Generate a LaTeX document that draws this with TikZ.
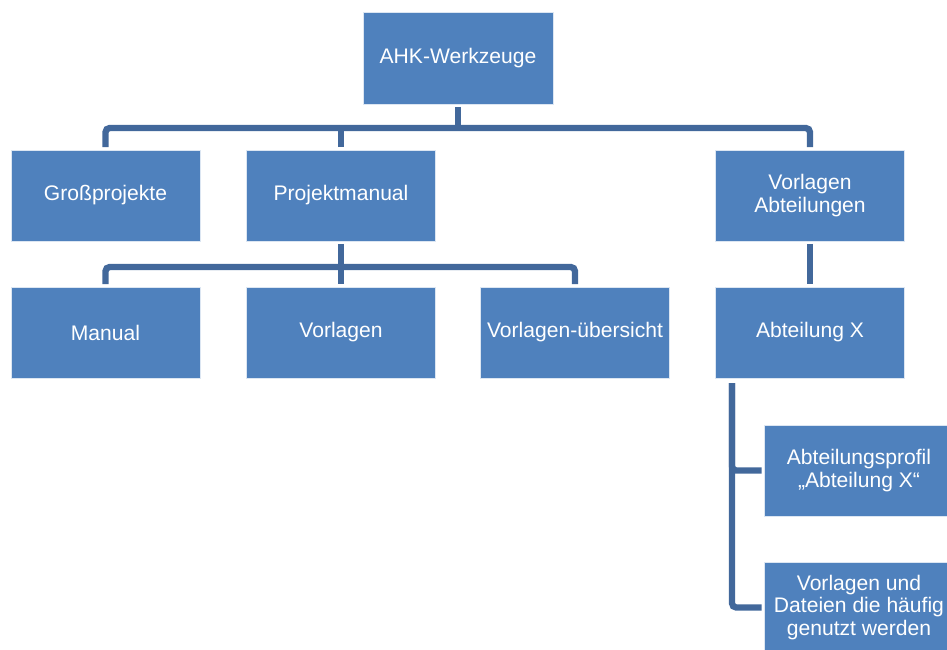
\documentclass[tikz,border=0pt]{standalone}
\usepackage{fontspec}
\setmainfont{Liberation Sans}
\definecolor{boxblue}{RGB}{79,129,189}
\definecolor{linkblue}{RGB}{66,104,155}
\tikzset{
  orgbox/.style={draw=white!80!boxblue, line width=0.6pt, fill=boxblue, text=white,
    minimum width=4.725cm, minimum height=2.275cm, align=center, inner sep=1pt,
    outer sep=2pt, font=\fontsize{15}{16}\selectfont},
  link/.style={draw=linkblue, line width=4.5pt, rounded corners=3pt}
}
\begin{document}
\begin{tikzpicture}[x=0.025cm, y=-0.025cm]
                \useasboundingbox (0,0) rectangle (947,650);
                \clip (0,0) rectangle (947,650);
                
                % Top level
                \node [orgbox, minimum width=4.75cm, minimum height=2.3cm] (ahk) at (458,58) {AHK-Werkzeuge};
                
                % Second level
                \node [orgbox] (gross) at (105.5,195.5) {Großprojekte};
                \node [orgbox] (projekt) at (341,195.5) {Projektmanual};
                \node [orgbox] (vabt) at (810,195.5) {Vorlagen\\Abteilungen};
                
                % Third level
                \node [orgbox] (manual) at (105.5,332.5) {Manual};
                \node [orgbox] (vorl) at (341,332.5) {Vorlagen};
                \node [orgbox] (vuebers) at (575,332.5) {Vorlagen-übersicht};
                \node [orgbox] (abtx) at (810,332.5) {Abteilung X};
                
                % Children of Abteilung X
                \node [orgbox] (profil) at (859,470.5) {Abteilungsprofil\\„Abteilung X“};
                \node [orgbox] (dateien) at (859,607.5) {Vorlagen und\\Dateien die häufig\\genutzt werden};
                
                % Bars and trunk
                \coordinate (bar1) at (458,128);
                \coordinate (bar2) at (341,267);
                \coordinate (trunk) at (732,383);
                
                % Drawing links from AHK-Werkzeuge
                \draw [link] (ahk.south) -- (bar1);
                \draw [link] (gross.north) |- (bar1) -| (vabt.north);
                \draw [link] (projekt.north) -- (projekt.north |- bar1);
                
                % Drawing links from Projektmanual
                \draw [link] (projekt.south) -- (vorl.north);
                \draw [link] (manual.north) |- (bar2) -| (vuebers.north);
                
                % Drawing links from Vorlagen Abteilungen
                \draw [link] (vabt) -- (abtx);
                
                % Drawing links from Abteilung X
                \draw [link] (trunk) |- (profil.west);
                \draw [link] (trunk) |- (dateien.west);
            \end{tikzpicture}
\end{document}
